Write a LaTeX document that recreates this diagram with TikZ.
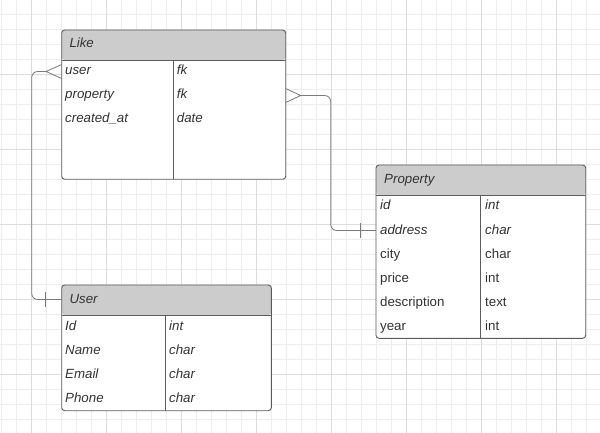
\documentclass[tikz,border=0pt]{standalone}
\usepackage{fontspec}
\setmainfont{Liberation Sans}
\usetikzlibrary{calc}
\definecolor{gridminor}{HTML}{EDEDED}
\definecolor{gridmajor}{HTML}{DCDCDC}
\definecolor{headfill}{HTML}{CCCCCC}
\definecolor{boxline}{HTML}{5C5C5C}
\definecolor{linkline}{HTML}{7A7A7A}
\definecolor{fieldtext}{HTML}{333333}
\tikzset{
  entity/.style={
    draw=boxline,fill=white,line width=0.9pt,rounded corners=3pt,
    inner sep=0pt,outer sep=0pt,anchor=north west,
    path picture={
      \fill[headfill] (path picture bounding box.north west) rectangle ([yshift=-30pt]path picture bounding box.north east);
      \draw[boxline,line width=0.9pt] ([yshift=-30pt]path picture bounding box.north west) -- ([yshift=-30pt]path picture bounding box.north east);
    }
  },
  field/.style={anchor=base west,inner sep=0pt,text=fieldtext,
    text height=9.5pt,text depth=2.5pt,font=\fontsize{13.3}{16}\selectfont\itshape},
  plain field/.style={field,font=\fontsize{13.3}{16}\selectfont},
  rule/.style={draw=boxline,line width=0.9pt},
  link/.style={draw=linkline,line width=0.8pt,rounded corners=6pt},
  foot/.style={draw=linkline,line width=0.8pt},
}
\begin{document}
\begin{tikzpicture}[x=1pt,y=-1pt]
\useasboundingbox (0,0) rectangle (600,433);
\clip (0,0) rectangle (600,433);
\foreach \x in {1.7,16.7,...,600} \draw[gridminor,line width=0.8pt] (\x,0) -- (\x,433);
\foreach \y in {14.3,29.3,...,433} \draw[gridminor,line width=0.8pt] (0,\y) -- (600,\y);
\foreach \x in {31.7,106.7,...,600} \draw[gridmajor,line width=0.8pt] (\x,0) -- (\x,433);
\foreach \y in {74.3,149.3,...,433} \draw[gridmajor,line width=0.8pt] (0,\y) -- (600,\y);

% Like
\node[entity,minimum width=224pt,minimum height=149.3pt] (like) at (61.7,30) {};
\draw[rule] (173.7,60) -- (173.7,179.3);
\node[field] (like-title) at (69.3,48) {Like};
\node[field] (like-user) at (65,75) {user};
\node[field] (like-user-t) at (176.7,75) {fk};
\node[field] (like-prop) at (65,99) {property};
\node[field] (like-prop-t) at (176.7,99) {fk};
\node[field] (like-date) at (65,123) {created\_at};
\node[field] (like-date-t) at (176.7,123) {date};

% Property
\node[entity,minimum width=209.7pt,minimum height=173.3pt] (prop) at (376,165) {};
\draw[rule] (480.7,195) -- (480.7,338.3);
\node[field] (prop-title) at (384,183) {Property};
\node[field] (prop-id) at (380,210) {id};
\node[field] (prop-id-t) at (485,210) {int};
\node[field] (prop-addr) at (380,234) {address};
\node[field] (prop-addr-t) at (485,234) {char};
\node[plain field] (prop-city) at (380,258) {city};
\node[plain field] (prop-city-t) at (485,258) {char};
\node[plain field] (prop-price) at (380,282) {price};
\node[plain field] (prop-price-t) at (485,282) {int};
\node[plain field] (prop-desc) at (380,306) {description};
\node[plain field] (prop-desc-t) at (485,306) {text};
\node[plain field] (prop-year) at (380,330) {year};
\node[plain field] (prop-year-t) at (485,330) {int};

% User
\node[entity,minimum width=209.6pt,minimum height=125.7pt] (user) at (61.7,285) {};
\draw[rule] (165,315) -- (165,410.7);
\node[field] (user-title) at (69.3,303) {User};
\node[field] (user-id) at (65,330) {Id};
\node[field] (user-id-t) at (169,330) {int};
\node[field] (user-name) at (65,354) {Name};
\node[field] (user-name-t) at (169,354) {char};
\node[field] (user-mail) at (65,378) {Email};
\node[field] (user-mail-t) at (169,378) {char};
\node[field] (user-phone) at (65,402) {Phone};
\node[field] (user-phone-t) at (169,402) {char};

% relations
\coordinate (like-user-in) at (like.west |- like-user);
\coordinate (user-in) at (user.west |- user-title);
\path (like-user-in) ++(-15.7,0) coordinate (fork-user);
\path (user-in) ++(-16,0) coordinate (bar-user);
\draw[link] (fork-user) -| ([xshift=-14pt]bar-user) -- (user-in);
\draw[foot] ([yshift=7pt]like-user-in) -- (fork-user) -- ([yshift=-7pt]like-user-in);
\draw[foot] ([yshift=7.5pt]bar-user) -- ([yshift=-7.5pt]bar-user);

\coordinate (like-prop-out) at (like.east |- like-prop);
\coordinate (prop-addr-in) at (prop.west |- prop-addr);
\path (like-prop-out) ++(15,0) coordinate (fork-prop);
\path (prop-addr-in) ++(-15.3,0) coordinate (bar-prop);
\draw[link] (fork-prop) -| ([xshift=-30pt]bar-prop) -- (prop-addr-in);
\draw[foot] ([yshift=7pt]like-prop-out) -- (fork-prop) -- ([yshift=-7pt]like-prop-out);
\draw[foot] ([yshift=7.5pt]bar-prop) -- ([yshift=-7.5pt]bar-prop);
\end{tikzpicture}
\end{document}
